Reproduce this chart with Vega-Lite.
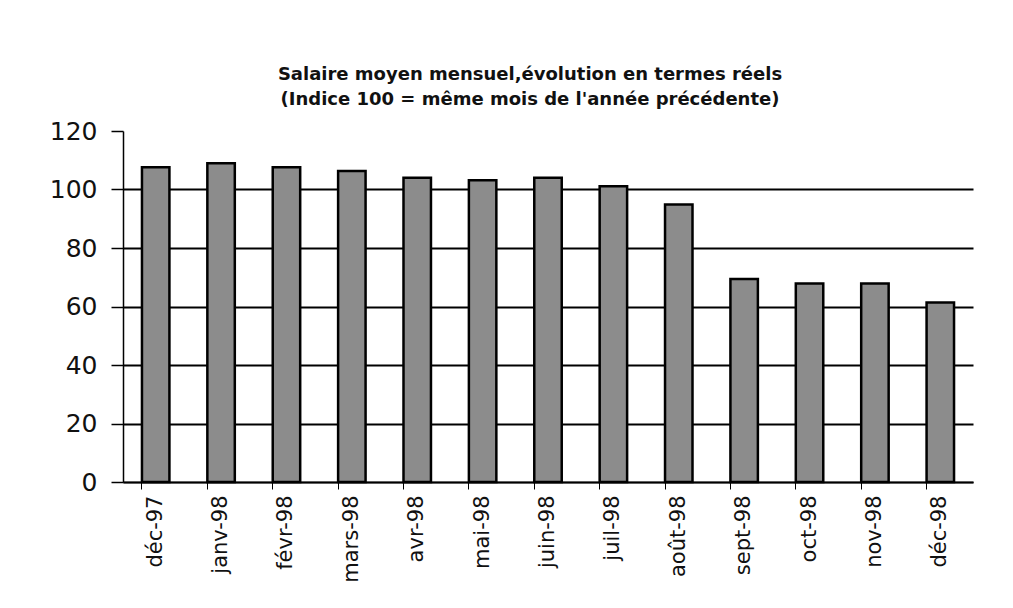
{
  "$schema": "https://vega.github.io/schema/vega-lite/v6.json",
  "autosize": "none",
  "width": 850,
  "height": 351,
  "padding": {"left": 123, "top": 131, "right": 40, "bottom": 126},
  "background": "white",
  "title": {
    "text": ["Salaire moyen mensuel,évolution en termes réels", "(Indice 100 = même mois de l'année précédente)"],
    "font": "DejaVu Sans",
    "fontSize": 18,
    "fontWeight": "bold",
    "lineHeight": 25,
    "color": "#111",
    "anchor": "middle",
    "dx": -18,
    "offset": 10
  },
  "data": {
    "values": [
      {"mois": "déc-97", "indice": 107.6},
      {"mois": "janv-98", "indice": 109.0},
      {"mois": "févr-98", "indice": 107.6},
      {"mois": "mars-98", "indice": 106.3},
      {"mois": "avr-98", "indice": 104.0},
      {"mois": "mai-98", "indice": 103.2},
      {"mois": "juin-98", "indice": 104.0},
      {"mois": "juil-98", "indice": 101.1},
      {"mois": "août-98", "indice": 94.9},
      {"mois": "sept-98", "indice": 69.4},
      {"mois": "oct-98", "indice": 67.9},
      {"mois": "nov-98", "indice": 67.9},
      {"mois": "déc-98", "indice": 61.4}
    ]
  },
  "mark": {"type": "bar", "fill": "#8c8c8c", "stroke": "#000", "strokeWidth": 2.5},
  "encoding": {
    "x": {
      "field": "mois",
      "type": "nominal",
      "sort": null,
      "scale": {"paddingInner": 0.58, "paddingOuter": 0.29},
      "axis": {
        "title": null,
        "labelAngle": -90,
        "labelAlign": "right",
        "labelBaseline": "middle",
        "labelFont": "DejaVu Sans",
        "labelFontSize": 21,
        "labelColor": "#111",
        "labelPadding": 6,
        "bandPosition": 0,
        "tickSize": 7,
        "tickColor": "#000",
        "tickWidth": 1,
        "domainColor": "#000",
        "domainWidth": 1.5,
        "grid": false
      }
    },
    "y": {
      "field": "indice",
      "type": "quantitative",
      "scale": {"domain": [0, 120], "nice": false},
      "axis": {
        "title": null,
        "values": [0, 20, 40, 60, 80, 100, 120],
        "labelFont": "DejaVu Sans",
        "labelFontSize": 25,
        "labelColor": "#111",
        "labelPadding": 14,
        "tickSize": 12,
        "tickColor": "#000",
        "tickWidth": 1.5,
        "domainColor": "#000",
        "domainWidth": 1.5,
        "grid": true,
        "gridColor": "#000",
        "gridWidth": 1.8,
        "gridOpacity": {"condition": {"test": "datum.value == 120", "value": 0}, "value": 1}
      }
    }
  },
  "config": {"view": {"stroke": null}}
}
